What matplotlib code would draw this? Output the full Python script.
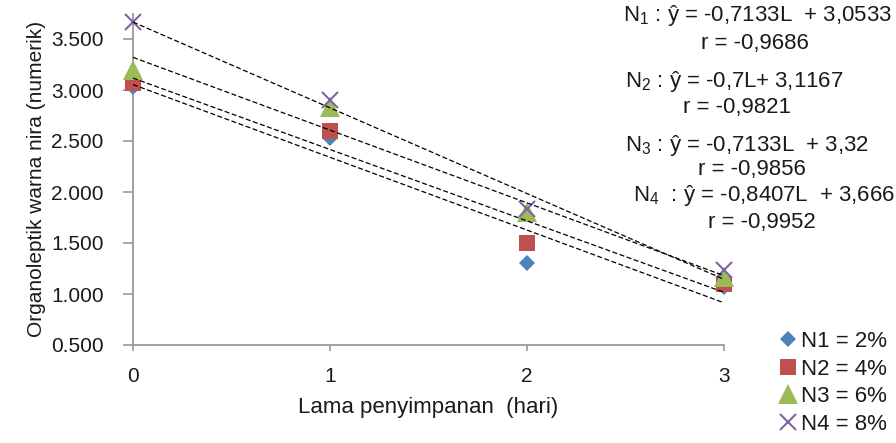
# Organoleptik warna nira vs lama penyimpanan, with linear trendlines

import numpy as np
import matplotlib
matplotlib.use('Agg')
import matplotlib.pyplot as plt

plt.rcParams['font.family'] = ['Liberation Sans', 'DejaVu Sans']
plt.rcParams['mathtext.fontset'] = 'custom'
plt.rcParams['mathtext.rm'] = 'Liberation Sans'
plt.rcParams['mathtext.it'] = 'Liberation Sans:italic'

days = [0, 1, 2, 3]
n1 = [3.033, 2.533, 1.300, 1.067]
n2 = [3.067, 2.600, 1.500, 1.100]
n3 = [3.200, 2.833, 1.800, 1.167]
n4 = [3.667, 2.900, 1.833, 1.233]

labels = ['N1 = 2%', 'N2 = 4%', 'N3 = 6%', 'N4 = 8%']
slopes = [-0.7133, -0.7, -0.7133, -0.8407]
intercepts = [3.0533, 3.1167, 3.32, 3.666]

eq_text = ['N$_1$ : ŷ = -0,7133L  + 3,0533',
           'N$_2$ : ŷ = -0,7L+ 3,1167',
           'N$_3$ : ŷ = -0,7133L  + 3,32',
           'N$_4$  : ŷ = -0,8407L  + 3,666']
r_text = ['r = -0,9686', 'r = -0,9821', 'r = -0,9856', 'r = -0,9952']

colors = ['#4F81BD', '#C0504D', '#9BBB59', '#8064A2']
markers = ['D', 's', '^', 'x']
msizes = [8, 12, 14, 12]

W, H = 896, 443
fig = plt.figure(figsize=(W / 100, H / 100), dpi=100)
ax = fig.add_axes([133 / W, (H - 345) / H, (724 - 133) / W, (345 - 13.5) / H])

series = [n1, n2, n3, n4]
for i, ys in enumerate(series):
    mew = 1.5 if markers[i] == 'x' else 0
    ax.plot(days, ys, linestyle='none', marker=markers[i], color=colors[i],
            markersize=msizes[i], markeredgewidth=mew, label=labels[i],
            clip_on=False, zorder=3)

xs = np.array([0, 3])
for m, b in zip(slopes, intercepts):
    ax.plot(xs, m * xs + b, color='black', linestyle=(0, (4, 2)),
            linewidth=0.9, zorder=4, clip_on=False)

ax.set_xlim(0, 3)
ax.set_ylim(0.5, 3.75)
ax.set_xticks(days)
ax.set_yticks([0.5, 1.0, 1.5, 2.0, 2.5, 3.0, 3.5])
ax.set_yticklabels(['0.500', '1.000', '1.500', '2.000', '2.500', '3.000', '3.500'])
ax.tick_params(axis='both', labelsize=15, color='#999999', width=1.2,
               colors='#999999', labelcolor='#1a1a1a')
ax.tick_params(axis='x', length=4, pad=12)
ax.tick_params(axis='y', length=7, pad=14)
for s in ['top', 'right']:
    ax.spines[s].set_visible(False)
for s in ['left', 'bottom']:
    ax.spines[s].set_color('#999999')
    ax.spines[s].set_linewidth(1.3)

ax.set_xlabel('Lama penyimpanan  (hari)', fontsize=16, color='#1a1a1a', labelpad=8)
ax.set_ylabel('Organoleptik warna nira (numerik)', fontsize=15, color='#1a1a1a', labelpad=4)

leg = fig.legend(loc='upper left', bbox_to_anchor=(768 / W, 1 - 322 / H),
                 frameon=False, fontsize=16, handletextpad=0.1,
                 handlelength=1.0, labelspacing=0.3, borderaxespad=0)
for t in leg.get_texts():
    t.set_color('#1a1a1a')

eq_pos = [(623, 16), (625, 82), (625, 145), (633, 195)]
r_pos = [(755, 43), (737, 108), (752, 170), (762, 223)]
for i in range(4):
    fig.text(eq_pos[i][0] / W, 1 - eq_pos[i][1] / H, eq_text[i], fontsize=16,
             ha='left', va='center', color='#1a1a1a')
    fig.text(r_pos[i][0] / W, 1 - r_pos[i][1] / H, r_text[i], fontsize=16,
             ha='center', va='center', color='#1a1a1a')

fig.savefig('out.png', dpi=100)
